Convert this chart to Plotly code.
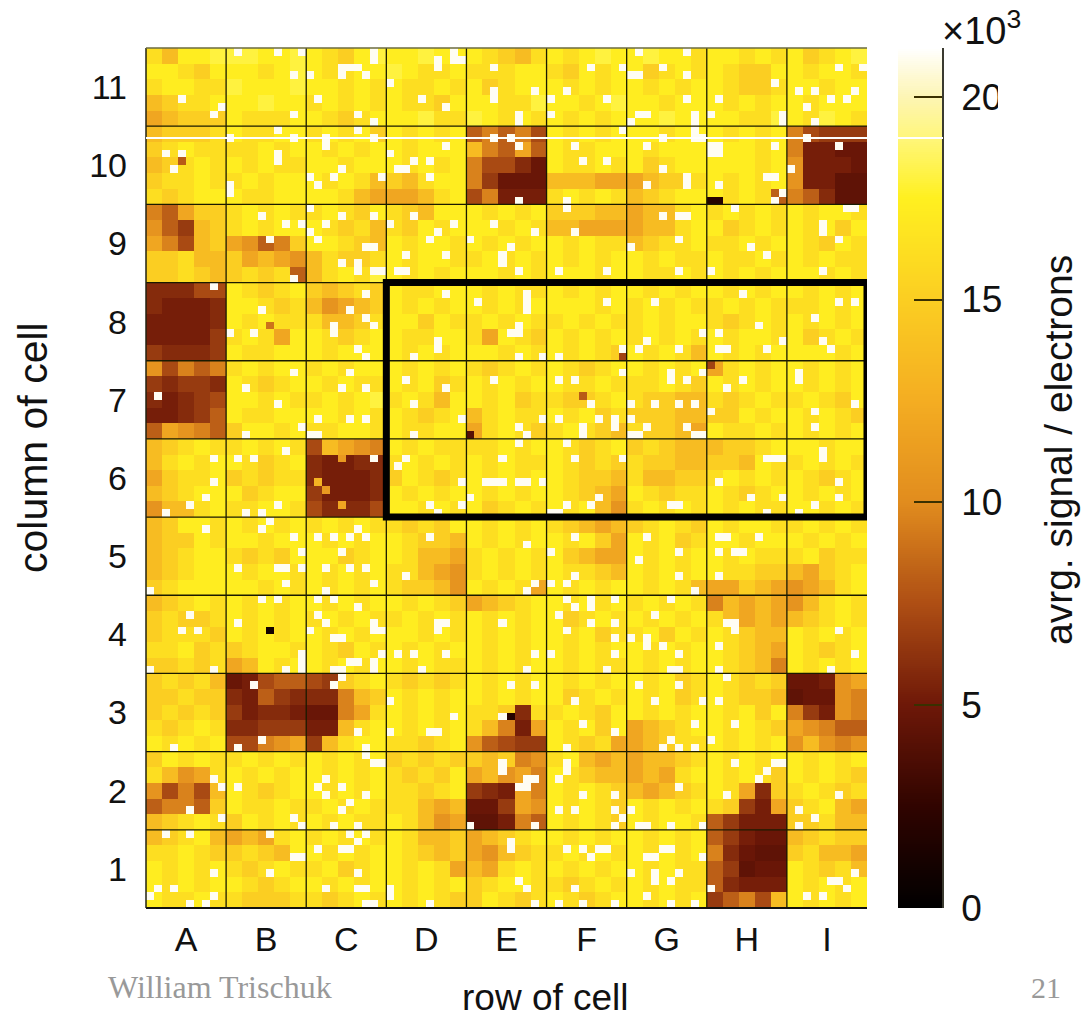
import numpy as np
import plotly.graph_objects as go

# signal per 2x2 bin block: each character is a reading level, looked up in level_values (thousands of electrons)
CODE = "0123456789abcdefghijkl"
level_values = [0, 1, 2.5, 4.4, 4.8, 5.3, 5.9, 6.6, 7.3, 8.2, 9.6, 10.6, 12, 13.6, 15, 16.2, 17.3, 18, 18.5, 19, 20, 21]
# one group per pad column A..I; rows run from top (column of cell 11) to bottom (1)
blocks = [
"fdggh hhggh gfegh gghgg gfedf gfghg ghggf ggfgf gefgh",
"ggfeg ggfgh gffgg hgffg fffgg fegfg gefgf gfeeg gfggf",
"fggff hgggh ggfgf gffgf gefgg gfgfg gfgfg gfeef ggfgg",
"deffg gghgg fgfgf gffeg ggffh ggfgh ggfgg gfgfg gfggg",
"cdeee gfffg gfefg gghff hgfgf gfgfg gghgg ggffh gfhgf",
"deeef gffgg fgfge gfgfg 9a9a8 gfgfg ggfgg gfgfg a8777",
"efgff ffgfg gfgfg gfggg da9c9 gffgg gfggg gggfg a5544",
"defgf gfgff ggfgg gfgfg a8864 gffgf gefgg gggfg b5554",
"effgf fgfgg gfgfd edfgg a7444 dddcc cdeef gfgfg b5533",
"fefgg gffgg ggfdc ccdfg 8a555 fgfgf defgg gfgf9 a9633",
"a9cee fgfgf fgfeg fedgg gfgfg eeedd cddfg fgfgf gfggf",
"b97de fgfgg gfefd fegfg ggfgf ddccc cddfg gefgf gfgeg",
"ca8de cb9ae ggfed gfggf gfgfg gfgff deffg ffgfg gfegf",
"eefdd ecdcb dfeef gfggf fgfgf gfgfg gfgff gffgf gfgff",
"eefed efef9 dfgfh gfgfg ggfgf gggfg gffgf gfgfg ggfgf",
"66688 gfefg edefe gffgg gfgff gfgfg gfgfg gfgfg gfgfg",
"65556 ggfef dbcde gfgfg gfgfg gggfg fgfgf fgfgf ffgfg",
"55556 gfgff fddef ggegf fgfgf fgfgf fgfgg fefgf gfgfg",
"55557 fgfcg gfefg gffgg fcgfe gfgfg fgfgf gfggf gefgf",
"76667 gffgg gfggg gfgfg ggfgf gfgfe gfgfd gfgfg gggfg",
"b8a9a fgfgg fgfgg gfgfg fefgf gfefg gfgfg cfgfg gfgfg",
"76776 gfefg gfgff gfgef gfgfg gffgf ffgfe gfgfg gfgfg",
"65678 ggfgf fgfgh fgfdg gfgef feefg feedd fefgf fgfeg",
"55679 gffgg ggfgf gfefg dfgff gfgef eeedd eegfg gfgfe",
"9cba9 eggfg ffggf gffgg cfgfe fgfed feedc gffgf gfgfg",
"defgf fgfgf 8dcba gfgff ffgfg gfefg efedd deefg ggfgg",
"dfgfg gfefg 65566 fgfgf gfgff gfefe feedd eedgf fgfgf",
"ceffg efeff 65556 egfef gfgfg gfeed fddee fgfgf gfefg",
"defgg gefgg 75556 gfgfg gfgfg gfedc gfeff gfefg gfgfg",
"bddfg ffggf 86668 ggfgf gefgf gfgdb fgfgf gfgff ggfgf",
"deggf gfgfg fgfgf fefeg gfgfg fedcd efgfe gfggf fgfgf",
"deegf ggfgg gfgfg gfeed gfgfg gfgec gfgef ggfgg gfgfg",
"defgg fefeg ggefg gfddc fgfgf gedcc gfgfg gfgff fgeff",
"defgg gfggf gfgfg ffdcb fgfgf gffed gfgfg gffee dcefg",
"efggg ggfgf gfgfg feedb gfgfc gfgfg gfgfd ccedc bcdfg",
"defgf gfgfg gfgfg gfgfe cdefg gfgfg fgfgf adcdc bdfgf",
"efeef gfgfg fgfgf fgfgf gfgfg gefgf gfgfg fdcdc defgf",
"efffe gfgfg gfgfg ggfgf gfgfg gfgef fgegf gfedd gfgfg",
"ffgef efggf gfegf gfgfg gfgfg gfgfg gfgfg gfedc gfefg",
"eefef cdgfg gfgfg gfgff gfgfg gfgff gfgfg gfeda gfgfg",
"efefd 45899 87efg fefef gfgfg gfgfg gfgef gfefe 445bc",
"eefee 65976 66ade gfgfg gfgfg gefgf gfgef gfeed 344ba",
"efefe 75665 44acf gfgfg ffe6f fgfeg gfgfg gfgeg a75ba",
"fefgf 66777 55dfg gfgfg fda5c gfgeg cdefg gfgfe cba99",
"gfgfg 88abc 7dfgg ffefg b9877 gfefc cdeff gfgfg bdbab",
"egfgf fgfgf gfgfg efefe edeab fgdcd cddef gfgfg gfgfg",
"fdbcf gfgfg gfgfg fefeg cdbca gfedd cdcfg gfgfe gfgfe",
"b8a8d gfefg gfgfg ffefg 765ca gfgfe dcdef gfc6e fgfef",
"9aa9e gffgf fgfgf ffdcd 447cb gfgfe gfgfg fe75c efgdc",
"defgf egfgf gfgff gfdbc 335a9 gfgfe gfggf 97555 eefdd",
"defgd cdcfg fgfgf gfdde cdefg gfgfg gfgfg 97544 defee",
"ffgfe efedg gfgfg gfede cbdef fgfgf gfgfg a6433 efddc",
"gfgfg fefgf fgefg gfgfc dcfgf gfgfg gfgff 97344 gfefd",
"gfgfg gfefg gfgfg gfgfg efggf fefgf gfgff 96555 gfgfg",
"gffgf feeef fefgf gfgfe egfef gfefg gfgfg 79a8d gfgfg",
]

# bins that read white, as (column, row from top) on the 90x110 bin grid
hot_bins = [(4,6),(9,7),(8,8),(11,0),(16,0),(19,0),(18,3),(21,6),(20,3),(28,0),(28,1),(24,2),(25,2),(26,2),(24,3),(27,3),
(30,4),(34,6),(37,7),(36,1),(36,2),(38,0),(38,1),(39,1),(43,5),(43,6),(43,2),(26,8),(28,9),(18,8),(16,10),(26,10),
(10,11),(18,11),(22,11),(22,12),(28,11),(43,11),(2,13),(4,13),(3,15),(16,13),(16,14),(30,13),(37,12),(33,14),(35,14),
(32,15),(31,15),(35,16),(24,15),(23,16),(20,16),(21,17),(29,16),(10,17),(10,18),(14,21),(17,22),(19,22),(20,20),(22,22),
(24,21),(28,21),(30,22),(33,21),(38,22),(36,23),(35,24),(20,23),(21,24),(15,24),(27,25),(28,25),(32,26),(37,26),(24,27),
(26,27),(26,28),(28,28),(29,28),(31,28),(32,28),(18,29),(8,30),(27,31),(25,33),(14,33),(27,34),(28,35),(23,35),(23,36),
(13,36),(10,36),(41,32),(37,31),(44,26),(44,27),(40,24),(43,22),
(45,11),(46,12),(46,8),(46,9),(48,5),(55,2),(59,2),(52,5),(50,6),(57,6),(50,8),(61,0),(67,0),(60,3),(61,3),(64,2),(67,3),
(67,6),(68,8),(68,9),(61,8),(62,8),(60,9),(70,8),(71,6),(79,8),(79,9),(78,4),(81,5),(83,5),(82,7),(85,6),(87,6),(88,5),
(86,2),(89,2),(83,9),(53,12),(62,12),(68,10),(68,11),(69,11),(64,11),(59,10),(71,12),(70,12),(70,13),(71,13),(78,12),
(82,11),(86,12),(80,15),(77,16),(78,16),(64,15),(62,17),(67,16),(67,17),(54,14),(57,14),(71,17),(79,18),(78,19),(46,19),
(52,19),(52,20),(64,21),(66,21),(67,21),(73,20),(87,20),(88,20),(53,23),(48,23),(84,22),(84,23),(86,24),(45,25),(60,25),
(66,24),(75,25),(77,26),(51,28),(57,28),(66,28),(70,28),(46,28),(84,28),(47,31),(47,32),(47,33),(57,32),(63,32),(74,31),
(86,32),(88,32),(83,34),(76,35),(71,36),(46,35),(45,36),(46,36),(69,36),
(1,44),(12,43),(18,41),(16,45),(24,43),(27,43),(25,41),(21,47),(25,47),(27,47),(19,48),(12,49),(20,49),(21,49),(32,42),
(37,43),(33,45),(39,47),(43,42),(33,49),(33,39),(36,37),(36,38),(27,39),(26,38),(8,52),(8,55),(2,59),(5,58),(7,57),(11,52),
(13,52),(17,51),(12,59),(14,59),(16,58),(15,60),(28,52),(32,52),(31,53),(39,55),(35,58),(36,59),(39,58),(43,55),(42,55),
(44,52),(44,55),(40,57),(7,61),(14,61),(18,62),(19,64),(19,66),(17,66),(16,66),(17,68),(11,66),(0,69),(16,70),(14,70),
(21,62),(23,62),(24,64),(26,61),(27,62),(25,62),(22,66),(25,66),(27,66),(28,68),(22,69),(23,70),(21,70),(32,67),(35,62),
(5,72),(26,71),(21,72),(22,73),(36,73),(37,73),(44,73),(28,73),(11,73),
(46,39),(49,39),(51,39),(59,38),(62,37),(61,38),(66,38),(71,38),(72,38),(77,38),(79,37),(84,37),(85,38),(59,41),(53,42),
(51,42),(55,45),(65,41),(65,42),(67,42),(69,41),(60,45),(63,45),(66,45),(68,45),(70,46),(72,43),(74,42),(81,41),(81,42),
(88,45),(83,46),(49,47),(46,48),(47,49),(51,47),(54,48),(54,49),(56,47),(58,47),(58,48),(60,47),(62,48),(61,49),(60,49),
(67,48),(69,49),(68,49),(83,48),(46,50),(52,50),(53,52),(59,52),(77,52),(78,52),(79,52),(84,51),(84,52),(47,55),(49,55),
(46,55),(71,55),(75,57),(79,57),(86,55),(86,57),(83,58),(81,59),(77,59),(56,57),(55,58),(52,58),(50,59),(51,59),(65,58),
(66,58),(47,63),(53,62),(62,62),(61,65),(50,64),(66,64),(71,62),(72,62),(71,64),(73,64),(74,64),(76,62),(71,67),(66,67),
(53,67),(52,68),(48,68),(47,69),(50,68),(68,69),(65,70),(52,70),(55,70),(58,70),(53,71),(55,71),(51,72),(63,72),(55,73),
(58,73),(72,73),(73,73),
(4,74),(6,74),(20,74),(23,75),(24,75),(28,74),(29,74),(36,74),(19,77),(19,78),(25,78),(26,78),(28,78),(29,77),(31,77),
(33,77),(37,77),(0,79),(8,79),(17,79),(23,79),(24,79),(24,80),(34,79),(19,79),(28,79),(13,81),(23,81),(30,83),(26,87),
(30,87),(35,87),(36,87),(14,88),(11,89),(3,89),(27,89),(27,90),(44,85),(38,85),(8,93),(9,94),(11,94),(28,91),(29,91),
(44,91),(44,92),(22,93),(21,94),(24,94),(22,95),(25,96),(27,95),(24,97),(5,97),(9,98),(18,98),(19,99),(23,99),(26,99),
(40,99),(2,100),(5,100),(15,100),(25,100),(27,100),(26,101),(21,102),(24,102),(25,102),(18,103),(19,103),(15,105),(8,105),
(1,107),(3,107),(0,108),(8,108),(26,105),(26,107),(27,107),(22,107),(30,107),(28,109),(27,109),(30,108),(5,109),(7,109),
(35,109),
(52,74),(58,75),(58,77),(50,77),(48,77),(47,79),(57,79),(60,75),(62,75),(62,76),(64,76),(66,77),(66,79),(65,79),(73,74),
(71,76),(71,79),(85,79),(88,77),(86,74),(48,81),(45,81),(53,83),(54,86),(58,87),(61,81),(63,83),(66,81),(69,83),(71,83),
(72,80),(73,86),(68,86),(65,88),(64,89),(66,89),(68,89),(70,88),(52,89),(52,91),(52,92),(47,93),(48,93),(47,94),(46,94),
(51,93),(54,95),(58,95),(53,97),(51,97),(58,99),(58,97),(59,98),(60,97),(61,99),(62,99),(65,99),(69,99),(66,94),(73,91),
(78,91),(79,91),(77,92),(76,93),(72,95),(86,95),(81,97),(83,98),(81,99),(48,99),(45,101),(45,102),(57,102),(56,102),(52,102),
(55,103),(54,102),(64,102),(65,102),(62,103),(63,103),(63,105),(63,106),(60,105),(66,105),(65,106),(69,103),(46,106),(47,107),
(53,107),(62,108),(70,107),(48,109),(51,109),(54,109),(58,109),(65,109),(68,109),(88,105),(85,106),(86,106),(87,107),(82,108),(84,108),
]
# single bins that read clearly darker than their neighbours: (column, row, value)
cold_bins = [(15,74,1),(70,19,2),(71,19,2),(45,85,2),(4,14,8),(15,35,9),(54,44,8),(40,49,4),(59,39,7),(70,40,7),
             (24,52,11),(22,56,11),(24,58,12),(21,55,13)]

row_labels = ["1","2","3","4","5","6","7","8","9","10","11"]
col_labels = ["A","B","C","D","E","F","G","H","I"]
bar_ticks = [0, 5, 10, 15, 20]

W, H = 1092, 1019
Z_MAX = 21.2

coarse = np.array([[level_values[CODE.index(c)] for c in "".join(r.split())] for r in blocks], dtype=float)
assert coarse.shape == (55, 45), coarse.shape
z = np.repeat(np.repeat(coarse, 2, axis=0), 2, axis=1)
for c, r in hot_bins:
    z[r, c] = 21.0
for c, r, v in cold_bins:
    z[r, c] = v

colors = [(0,"#000000"),(2.5,"#300400"),(5,"#6e1808"),(7.5,"#ae4e14"),(10,"#e18c1e"),(12.5,"#f4ad22"),
          (15,"#fbce22"),(17.5,"#fff020"),(19,"#fff67c"),(20,"#fdf5b4"),(21.2,"#ffffff")]
colorscale = [[v / Z_MAX, c] for v, c in colors]

fig = go.Figure()
fig.add_trace(go.Heatmap(z=z, x0=-0.45, dx=0.1, y0=11.45, dy=-0.1, coloraxis="coloraxis", hoverongaps=False))
ramp = np.arange(0, Z_MAX, 0.05)
fig.add_trace(go.Heatmap(z=ramp.reshape(-1, 1), x=[0], y=ramp, xaxis="x2", yaxis="y2", coloraxis="coloraxis"))

px = lambda v: v / W
py = lambda v: 1 - v / H
font = dict(family="Liberation Sans", size=34, color="#111111")

shapes = []
for i in range(1, 9):
    shapes.append(dict(type="line", xref="x", yref="paper", x0=i - 0.5, x1=i - 0.5, y0=py(908), y1=py(48),
                       line=dict(color="#1a1a00", width=1.3)))
for j in range(1, 11):
    shapes.append(dict(type="line", xref="paper", yref="y", x0=px(146), x1=px(867), y0=j + 0.5, y1=j + 0.5,
                       line=dict(color="#1a1a00", width=1.3)))
shapes.append(dict(type="line", xref="paper", yref="paper", x0=px(146), x1=px(867), y0=py(908), y1=py(908),
                   line=dict(color="#111111", width=2)))
shapes.append(dict(type="line", xref="paper", yref="paper", x0=px(146), x1=px(146), y0=py(908), y1=py(48),
                   line=dict(color="#222211", width=1.5)))
shapes.append(dict(type="line", xref="paper", yref="paper", x0=px(146), x1=px(867), y0=py(48), y1=py(48),
                   line=dict(color="#6b6b40", width=1.5)))
shapes.append(dict(type="rect", xref="x", yref="y", x0=2.5, x1=8.5, y0=5.5, y1=8.5,
                   line=dict(color="#000000", width=7)))
shapes.append(dict(type="line", xref="paper", yref="paper", x0=px(146), x1=px(943), y0=py(138), y1=py(138),
                   line=dict(color="#ffffff", width=2)))
# the last digit of 20 is cut off in the source
shapes.append(dict(type="rect", xref="paper", yref="paper", x0=px(998), x1=px(1030), y0=py(122), y1=py(75),
                   line=dict(width=0), fillcolor="#ffffff"))

annotations = [
    dict(text="row of cell", x=px(545), y=py(997), font=dict(font, size=37)),
    dict(text="column of cell", x=px(33), y=py(448), font=dict(font, size=41), textangle=-90),
    dict(text="avrg. signal / electrons", x=px(1058), y=py(450), font=dict(font, size=39), textangle=-90),
    dict(text="×10<sup>3</sup>", x=px(981), y=py(28), font=dict(font, size=38)),
    dict(text="William Trischuk", x=px(220), y=py(987), font=dict(family="Liberation Serif", size=32, color="#999999")),
    dict(text="21", x=px(1046), y=py(987), font=dict(family="Liberation Serif", size=30, color="#999999")),
]
for a in annotations:
    a.update(xref="paper", yref="paper", showarrow=False, xanchor="center", yanchor="middle")

fig.update_layout(
    width=W, height=H, margin=dict(l=0, r=0, t=0, b=0), paper_bgcolor="white", plot_bgcolor="white",
    coloraxis=dict(cmin=0, cmax=Z_MAX, colorscale=colorscale, showscale=False),
    xaxis=dict(domain=[px(146), px(867)], range=[-0.5, 8.5], tickvals=list(range(9)), ticktext=col_labels,
               showgrid=False, zeroline=False, ticks="", tickfont=font, ticklabelstandoff=8, automargin=False),
    yaxis=dict(domain=[py(908), py(48)], range=[0.5, 11.5], tickvals=list(range(1, 12)), ticktext=row_labels,
               showgrid=False, zeroline=False, ticks="", tickfont=font, ticklabelstandoff=18, automargin=False),
    xaxis2=dict(domain=[px(898), px(942)], range=[-0.5, 0.5], anchor="y2", showticklabels=False, ticks="",
                showgrid=False, zeroline=False),
    yaxis2=dict(domain=[py(908), py(48)], range=[0, Z_MAX], anchor="x2", side="right", tickvals=bar_ticks,
                ticks="inside", ticklen=28, tickcolor="#3a3000", tickwidth=1.5, showline=True, linecolor="#3a3a30",
                linewidth=1.5, showgrid=False, zeroline=False, tickfont=dict(font, size=37), ticklabelstandoff=10,
                automargin=False),
    shapes=shapes, annotations=annotations,
)
fig.write_html("out.html", config=dict(displayModeBar=False),
               post_script="document.body.style.margin='0';document.documentElement.style.overflow='hidden';")
